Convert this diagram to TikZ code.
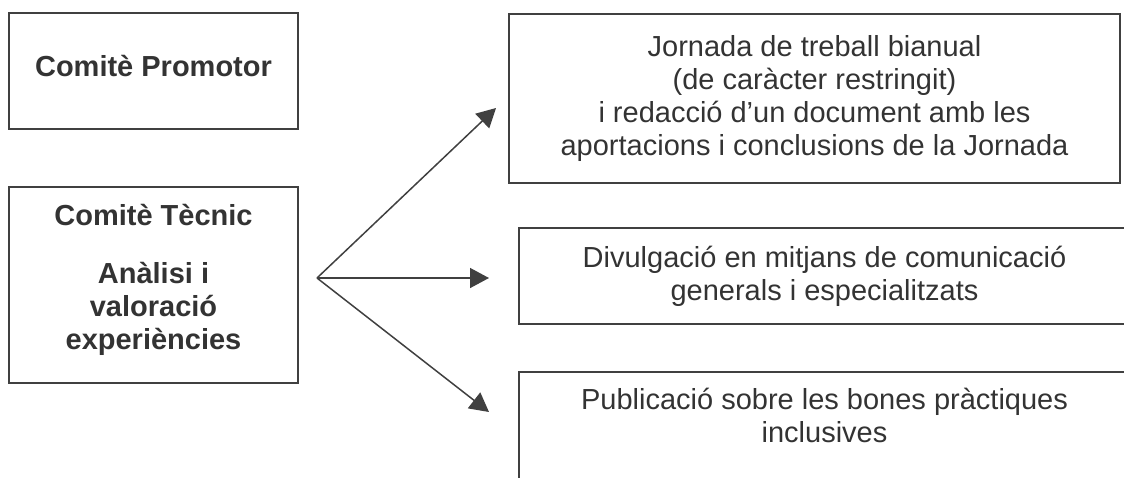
\documentclass[tikz,border=0pt]{standalone}
\usepackage{fontspec}
\setmainfont{Liberation Sans}
\usetikzlibrary{arrows.meta}
\begin{document}
\begin{tikzpicture}[x=1pt,y=-1pt,
    box/.style={draw=\LINECOLOR, line width=2pt, inner sep=0pt, align=center,
        text=\TEXTCOLOR, font=\fontsize{29}{33}\selectfont},
    leftbox/.style={box, minimum width=289pt},
    rightbox/.style={box, minimum width=611pt},
    link/.style={draw=\LINECOLOR, line width=1.5pt, -{Triangle[length=19pt,width=20pt]}}]

\def\LINECOLOR{black!75}
\def\TEXTCOLOR{black!80}
	\useasboundingbox (0,0) rectangle (1124,477);
	\clip (0,0) rectangle (1124,477);

	% left column
	\node[leftbox, minimum height=116pt, text depth=10pt] (promotor) at (153.5,71) {\textbf{Comitè Promotor}};
	\node[leftbox, minimum height=196pt, text depth=16pt] (tecnic) at (153.5,285) {\textbf{Comitè Tècnic}\\[25pt]\textbf{Anàlisi i}\\\textbf{valoració}\\\textbf{experiències}};

	% right column
	\node[rightbox, minimum height=169pt] (jornada) at (814.5,98.5) {Jornada de treball bianual\\(de caràcter restringit)\\i redacció d’un document amb les\\aportacions i conclusions de la Jornada};
	\node[rightbox, minimum height=96pt] (divulgacio) at (824.5,276) {Divulgació en mitjans de comunicació\\generals i especialitzats};
	\node[rightbox, minimum height=120pt, text depth=34pt] (publicacio) at (824.5,432) {Publicació sobre les bones pràctiques\\inclusives};

	% arrows
	\coordinate (fork) at (317,278);
	\coordinate (tipjornada) at (496,108);
	\coordinate (tipdivulgacio) at (489,278);
	\coordinate (tippublicacio) at (489,412);
	\draw[link] (fork) -- (tipjornada);
	\draw[link] (fork) -- (tipdivulgacio);
	\draw[link] (fork) -- (tippublicacio);

\end{tikzpicture}
\end{document}
